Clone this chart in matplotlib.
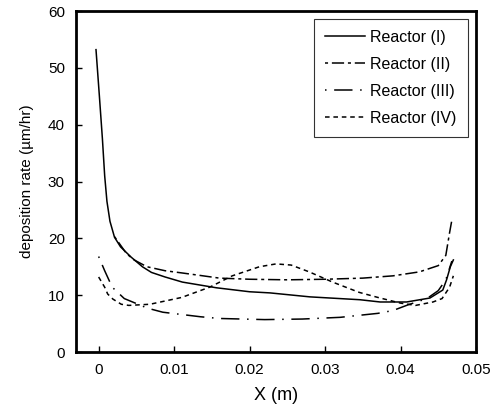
import matplotlib
matplotlib.use("Agg")
import matplotlib.pyplot as plt

plt.rcParams['font.family'] = ['Liberation Sans', 'DejaVu Sans']

# Reactor (I) - solid
x1 = [-0.00035, 0.0001, 0.0005, 0.0008, 0.0011, 0.0015, 0.0021, 0.0029, 0.0043, 0.0058,
      0.0070, 0.0088, 0.0111, 0.0156, 0.0200, 0.0227, 0.0280, 0.0346, 0.0373, 0.0408,
      0.0439, 0.0456, 0.0461, 0.0466, 0.0470]
y1 = [53.2, 45.0, 37.5, 31.0, 26.5, 23.0, 20.2, 18.5, 16.7, 15.0,
      14.0, 13.2, 12.3, 11.3, 10.6, 10.4, 9.7, 9.2, 8.8, 8.8,
      9.5, 10.9, 12.7, 15.0, 16.2]

# Reactor (II) - dash-dot
x2 = [0.0021, 0.0037, 0.0047, 0.0064, 0.0088, 0.0111, 0.0133, 0.0160, 0.0200, 0.0250,
      0.0300, 0.0350, 0.0390, 0.0425, 0.0450, 0.0460, 0.0465, 0.0468]
y2 = [20.3, 17.3, 16.2, 15.0, 14.3, 13.9, 13.5, 13.0, 12.8, 12.7,
      12.8, 13.0, 13.4, 14.1, 15.2, 17.0, 21.0, 23.2]

# Reactor (III) - dot / long dash
x3 = [0.0000, 0.0008, 0.0018, 0.0034, 0.0065, 0.0085, 0.0110, 0.0135, 0.0160, 0.0220,
      0.0270, 0.0320, 0.0370, 0.0390, 0.0410, 0.0435, 0.0450, 0.0460, 0.0468]
y3 = [16.8, 14.3, 11.4, 9.4, 7.7, 7.0, 6.6, 6.2, 5.9, 5.7,
      5.8, 6.1, 6.8, 7.3, 8.3, 9.4, 10.8, 12.7, 16.0]

# Reactor (IV) - short dashes
x4 = [0.0000, 0.0008, 0.0012, 0.0019, 0.0030, 0.0040, 0.0068, 0.0110, 0.0147, 0.0177,
      0.0213, 0.0235, 0.0255, 0.0279, 0.0310, 0.0345, 0.0370, 0.0400, 0.0420, 0.0443,
      0.0455, 0.0465, 0.0470]
y4 = [13.2, 11.4, 10.2, 9.3, 8.4, 8.2, 8.4, 9.6, 11.4, 13.4,
      15.0, 15.5, 15.3, 14.1, 12.3, 10.5, 9.6, 8.6, 8.2, 8.8,
      9.4, 11.4, 13.4]

labels = ['Reactor (I)', 'Reactor (II)', 'Reactor (III)', 'Reactor (IV)']
xticks = [0, 0.01, 0.02, 0.03, 0.04, 0.05]
xticklabels = ['0', '0.01', '0.02', '0.03', '0.04', '0.05']
yticks = [0, 10, 20, 30, 40, 50, 60]

fig = plt.figure(figsize=(5.01, 4.11), dpi=100)
ax = fig.add_axes([76/501, 59/411, 400/501, 341/411])

lw = 1.1
ax.plot(x1, y1, color='black', lw=lw, linestyle='-', label=labels[0])
ax.plot(x2, y2, color='black', lw=lw, linestyle=(0, (2, 2.5, 8, 2.5)), label=labels[1])
ax.plot(x3, y3, color='black', lw=lw, linestyle=(0, (1, 5, 12, 5)), label=labels[2])
ax.plot(x4, y4, color='black', lw=lw, linestyle=(0, (3, 2.5)), label=labels[3])

ax.set_xlim(-0.003, 0.05)
ax.set_ylim(0, 60)
ax.set_xticks(xticks)
ax.set_xticklabels(xticklabels)
ax.set_yticks(yticks)
ax.tick_params(direction='in', length=4, width=1, labelsize=11, pad=8)
for s in ax.spines.values():
    s.set_linewidth(2)

ax.set_xlabel('X (m)', fontsize=13, labelpad=7)
ax.set_ylabel('deposition rate (\u00b5m/hr)', fontsize=11, labelpad=10)

leg = ax.legend(loc='upper right', bbox_to_anchor=(0.98, 0.978), borderaxespad=0,
                fontsize=11.5, frameon=True, fancybox=False, edgecolor='black',
                handlelength=2.5, handletextpad=0.35, borderpad=0.7, labelspacing=0.75)
leg.get_frame().set_linewidth(0.8)

fig.savefig('out.png', dpi=100)
